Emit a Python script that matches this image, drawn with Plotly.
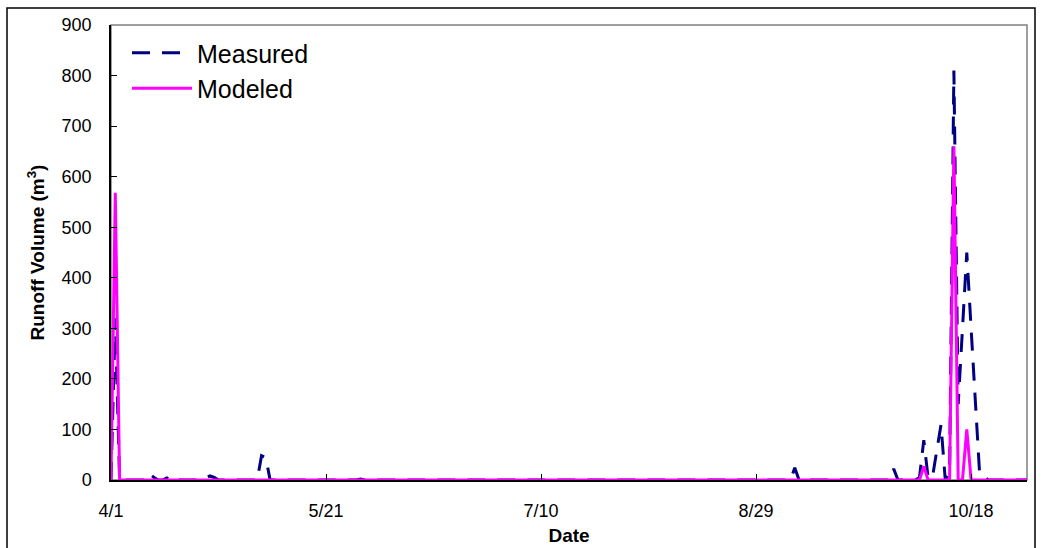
import pandas as pd
import plotly.graph_objects as go

# Daily series from 4/1 to 10/31 (214 days)
start_date = "2007-04-01"
n_days = 214

measured = [
    0, 320, 0, 0, 0, 0, 0, 0, 0, 12,      # 4/1 - 4/10
    5, 0, 0, 4, 0, 5, 0, 0, 0, 0,         # 4/11 - 4/20
    0, 0, 4, 8, 5, 0, 0, 0, 0, 0,         # 4/21 - 4/30
    0, 0, 0, 0, 0, 48, 44, 0, 0, 0,       # 5/1 - 5/10
    0, 0, 0, 0, 0, 0, 0, 0, 0, 0,         # 5/11 - 5/20
    0, 0, 0, 0, 0, 0, 0, 0, 2, 0,         # 5/21 - 5/30
    0, 0, 0, 0, 0, 0, 0, 0, 0, 0,         # 5/31 - 6/9
    0, 0, 0, 0, 0, 0, 0, 0, 0, 0,         # 6/10 - 6/19
    0, 0, 0, 0, 0, 0, 0, 0, 0, 0,         # 6/20 - 6/29
    0, 0, 0, 0, 0, 0, 0, 0, 0, 0,         # 6/30 - 7/9
    0, 0, 0, 0, 0, 0, 0, 0, 0, 0,         # 7/10 - 7/19
    0, 0, 0, 0, 0, 0, 0, 0, 0, 0,         # 7/20 - 7/29
    0, 0, 0, 0, 0, 0, 0, 0, 0, 0,         # 7/30 - 8/8
    0, 0, 0, 0, 0, 0, 0, 0, 0, 0,         # 8/9 - 8/18
    0, 0, 0, 0, 0, 0, 0, 0, 0, 0,         # 8/19 - 8/28
    0, 0, 0, 0, 0, 0, 0, 0, 0, 24,        # 8/29 - 9/7
    0, 0, 0, 0, 0, 0, 0, 0, 0, 0,         # 9/8 - 9/17
    0, 0, 0, 0, 0, 0, 0, 0, 0, 0,         # 9/18 - 9/27
    0, 0, 22, 0, 0, 0, 0, 0, 5, 79,       # 9/28 - 10/7
    5, 5, 57, 109, 0, 15, 810, 150, 300, 450,  # 10/8 - 10/17
    300, 150, 10, 6, 0, 0, 0, 0, 0, 0,    # 10/18 - 10/27
    0, 0, 0, 0,                           # 10/28 - 10/31
]

modeled = [
    0, 568, 0, 0, 0, 0, 0, 0, 0, 0,
    0, 0, 0, 0, 0, 0, 0, 0, 0, 0,
    0, 0, 0, 0, 0, 0, 0, 0, 0, 0,
    0, 0, 0, 0, 0, 0, 0, 0, 0, 0,
    0, 0, 0, 0, 0, 0, 0, 0, 0, 0,
    0, 0, 0, 0, 0, 0, 0, 0, 0, 0,
    0, 0, 0, 0, 0, 0, 0, 0, 0, 0,
    0, 0, 0, 0, 0, 0, 0, 0, 0, 0,
    0, 0, 0, 0, 0, 0, 0, 0, 0, 0,
    0, 0, 0, 0, 0, 0, 0, 0, 0, 0,
    0, 0, 0, 0, 0, 0, 0, 0, 0, 0,
    0, 0, 0, 0, 0, 0, 0, 0, 0, 0,
    0, 0, 0, 0, 0, 0, 0, 0, 0, 0,
    0, 0, 0, 0, 0, 0, 0, 0, 0, 0,
    0, 0, 0, 0, 0, 0, 0, 0, 0, 0,
    0, 0, 0, 0, 0, 0, 0, 0, 0, 0,
    0, 0, 0, 0, 0, 0, 0, 0, 0, 0,
    0, 0, 0, 0, 0, 0, 0, 0, 0, 0,
    0, 0, 0, 0, 0, 0, 0, 0, 0, 27,
    0, 0, 0, 0, 0, 0, 660, 0, 0, 100,
    0, 0, 0, 0, 0, 0, 0, 0, 0, 0,
    0, 0, 0, 0,
]

tick_dates = ["2007-04-01", "2007-05-21", "2007-07-10", "2007-08-29", "2007-10-18"]
tick_labels = ["4/1", "5/21", "7/10", "8/29", "10/18"]
y_ticks = [0, 100, 200, 300, 400, 500, 600, 700, 800, 900]

dates = pd.date_range(start_date, periods=n_days, freq="D")

FONT = "Arial, Liberation Sans, sans-serif"

fig = go.Figure()
fig.add_trace(go.Scatter(
    x=dates, y=measured, mode="lines", name="Measured",
    line=dict(color="#000080", width=3, dash="18px,12px"),
))
fig.add_trace(go.Scatter(
    x=dates, y=modeled, mode="lines", name="Modeled",
    line=dict(color="#FF00FF", width=3),
))

W, H = 1042, 548
L, R, T, B = 111, 15, 25, 68
pw, ph = W - L - R, H - T - B

def px_x(v):
    return (v - L) / pw

def px_y(v):
    return (H - B - v) / ph

# outer chart border and plot-area border
fig.add_shape(type="rect", xref="paper", yref="paper",
              x0=px_x(7), x1=px_x(1035), y0=px_y(560), y1=px_y(8),
              line=dict(color="black", width=1.5), layer="below")
fig.add_shape(type="rect", xref="paper", yref="paper",
              x0=0, x1=1, y0=0, y1=1,
              line=dict(color="#808080", width=1.5), layer="below")

fig.update_layout(
    width=W, height=H,
    margin=dict(l=L, r=R, t=T, b=B, autoexpand=False),
    paper_bgcolor="white", plot_bgcolor="white",
    font=dict(family=FONT, size=18, color="black"),
    showlegend=True,
    legend=dict(x=px_x(127), y=px_y(30), xanchor="left", yanchor="top",
                font=dict(size=25, family=FONT), bgcolor="rgba(0,0,0,0)",
                itemwidth=60, tracegroupgap=0),
    xaxis=dict(
        range=[dates[0], dates[-1]],
        tickmode="array", tickvals=tick_dates, ticktext=tick_labels,
        ticks="inside", ticklen=6, tickcolor="black",
        showline=True, linecolor="black", linewidth=1.5,
        showgrid=False, zeroline=False, automargin=False,
        ticklabelstandoff=14,
        title=dict(text="<b>Date</b>", font=dict(size=19, family=FONT), standoff=8),
    ),
    yaxis=dict(
        range=[0, 900], tickmode="array", tickvals=y_ticks,
        ticks="inside", ticklen=6, tickcolor="black",
        showline=True, linecolor="black", linewidth=1.5,
        showgrid=False, zeroline=False, automargin=False,
        ticklabelstandoff=14,
        title=dict(text="<b>Runoff Volume (m<sup>3</sup>)</b>",
                   font=dict(size=19, family=FONT), standoff=12),
    ),
)

fig.write_html("out.html")
